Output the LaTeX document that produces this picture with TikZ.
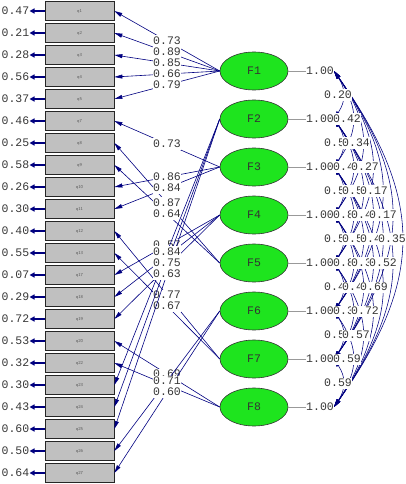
\documentclass[tikz,border=0pt]{standalone}
\usepackage{fontspec}
\setmonofont{Liberation Mono}
\usetikzlibrary{arrows.meta,shapes.geometric}
\definecolor{navyc}{RGB}{0,0,128}
\definecolor{greenc}{RGB}{30,228,30}
\definecolor{boxc}{RGB}{192,192,192}
\definecolor{numc}{RGB}{55,55,55}
\newcommand\loadgroup[2]{%
  \foreach \qq/\lv in {#2} {\draw[load] (F#1.west) -- (q\qq.east);}%
  \foreach \qq/\lv in {#2} {\path (F#1.west) -- node[lab] (l#1-\qq) {\lv} (q\qq.east);}%
}
\begin{document}
\begin{tikzpicture}[x=1pt,y=-1pt,
  item/.style={draw=black!85, fill=boxc, line width=0.7pt, minimum width=69pt, minimum height=19pt, inner sep=0pt, font=\fontsize{4.5}{4.5}\selectfont\sffamily, text=black!65},
  fac/.style={ellipse, draw=black!80, line width=0.6pt, fill=greenc, minimum width=68pt, minimum height=38pt, inner sep=0pt, font=\fontsize{11.5}{12}\selectfont\ttfamily, text=black!80},
  num/.style={font=\fontsize{11.5}{12}\selectfont\ttfamily, text=numc, inner sep=0pt},
  lab/.style={num, fill=white, inner xsep=0.5pt, inner ysep=1.6pt},
  load/.style={draw=navyc, line width=0.6pt, -{Triangle[length=8pt,width=4pt]}},
  errarr/.style={draw=navyc, line width=1.6pt, -{Triangle[length=5pt,width=5pt]}},
  varline/.style={draw=black!40, line width=0.6pt},
  corr/.style={draw=navyc, line width=0.55pt, {Triangle[length=8pt,width=4pt]}-{Triangle[length=8pt,width=4pt]}},
]
\useasboundingbox (0,0) rectangle (406,484);
% items and error variances
\foreach \qq/\ev [count=\kk from 0] in {1/0.47,2/0.21,3/0.28,4/0.56,5/0.37,7/0.46,8/0.25,9/0.58,10/0.26,11/0.30,12/0.40,13/0.55,17/0.07,18/0.29,19/0.72,20/0.53,22/0.32,23/0.30,24/0.43,25/0.60,26/0.50,27/0.64} {
  \node[item] (q\qq) at (79.5, 11+22*\kk) {q\qq};
  \node[num, anchor=east] (e\qq) at (29.5, 11+22*\kk) {\ev};
  \draw[errarr] (q\qq.west) -- (e\qq.east);
}
% factors
\foreach \ii in {1,...,8} {
  \node[fac] (F\ii) at (254, 71+48*\ii-48) {F\ii};
  \node[num, anchor=west] (v\ii) at (306, 71+48*\ii-48) {1.00};
  \draw[varline] (F\ii.east) -- (v\ii.west);
}
% loadings
\loadgroup{8}{20/0.69,22/0.82}
\loadgroup{7}{12/0.77,13/0.67}
\loadgroup{6}{26/0.71,27/0.60}
\loadgroup{5}{8/0.87,9/0.64}
\loadgroup{4}{17/0.57,18/0.84,19/0.53}
\loadgroup{3}{7/0.73,10/0.86,11/0.84}
\loadgroup{2}{23/0.84,24/0.75,25/0.63}
\loadgroup{1}{1/0.73,2/0.89,3/0.85,4/0.66,5/0.79}
% correlations
\def\corrlist{1/2/0.20,2/3/0.55,3/4/0.56,4/5/0.58,5/6/0.47,6/7/0.54,7/8/0.59,
1/3/0.42,2/4/0.43,3/5/0.81,4/6/0.80,5/7/0.36,6/8/0.59,
1/4/0.34,2/5/0.55,3/6/0.54,4/7/0.45,5/8/0.57,
1/5/0.27,2/6/0.40,3/7/0.38,4/8/0.72,
1/6/0.17,2/7/0.42,3/8/0.69,
1/7/0.17,2/8/0.52,
1/8/0.35}
\foreach \ii/\jj/\rv in \corrlist {
  \pgfmathsetmacro\dd{\jj-\ii}
  \pgfmathsetmacro\ck{(9+9.8*(\dd-1))/0.75}
  \pgfmathsetmacro\hh{0.38*48*\dd}
  \draw[corr] (v\ii.east) .. controls +(\ck,\hh) and +(\ck,-\hh) .. (v\jj.east);
}
\foreach \ii/\jj/\rv in \corrlist {
  \pgfmathsetmacro\dd{\jj-\ii}
  \pgfmathsetmacro\cx{338+9*(\dd-1)}
  \pgfmathsetmacro\cy{71+24*(\ii+\jj-2)}
  \node[lab] (c\ii-\jj) at (\cx,\cy) {\rv};
}
\end{tikzpicture}
\end{document}
